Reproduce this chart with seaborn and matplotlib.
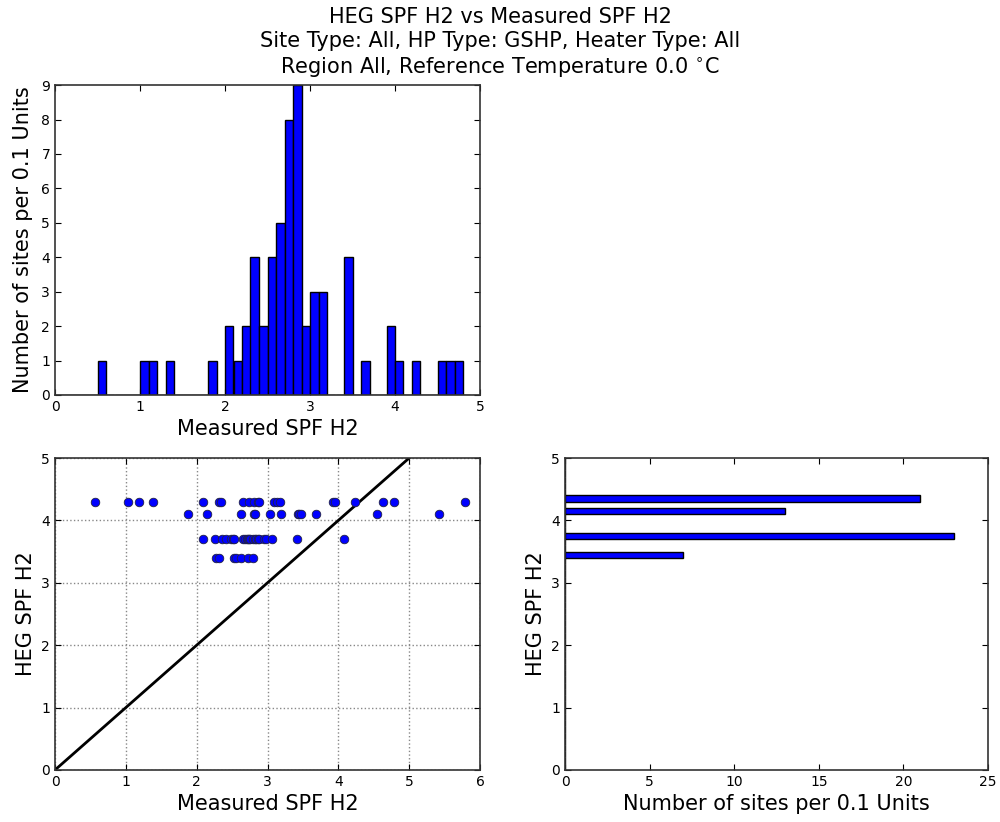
import numpy as np
import pandas as pd
import matplotlib
matplotlib.use("Agg")
import matplotlib.pyplot as plt
import seaborn as sns

# ---- data ----
heg_levels = [4.3, 4.1, 3.7, 3.4]
measured_43 = [0.56, 1.03, 1.18, 1.38, 2.09, 2.31, 2.34, 2.66, 2.74, 2.81, 2.86, 2.88,
               3.09, 3.13, 3.18, 3.92, 3.95, 4.24, 4.63, 4.79, 5.79]
measured_41 = [1.88, 2.14, 2.62, 2.81, 2.82, 3.03, 3.19, 3.43, 3.45, 3.47, 3.68, 4.54, 5.42]
measured_37 = [2.09, 2.26, 2.36, 2.41, 2.48, 2.51, 2.53, 2.65, 2.68, 2.71, 2.72, 2.74, 2.76,
               2.79, 2.82, 2.84, 2.86, 2.88, 2.95, 2.98, 3.07, 3.42, 4.08]
measured_34 = [2.28, 2.31, 2.52, 2.55, 2.62, 2.73, 2.79]
unity_line = [0, 5]

title = ("HEG SPF H2 vs Measured SPF H2\n"
         "Site Type: All, HP Type: GSHP, Heater Type: All\n"
         "Region All, Reference Temperature 0.0 $^{\\circ}$C")

rows = []
for lvl, vals in zip(heg_levels, [measured_43, measured_41, measured_37, measured_34]):
    for v in vals:
        rows.append({"measured": v, "heg": lvl})
df = pd.DataFrame(rows)

bins = np.round(np.arange(0, 5.05, 0.1), 10)

plt.rcParams.update({
    "font.family": ["DejaVu Sans"],
    "mathtext.default": "regular",
    "xtick.direction": "in", "ytick.direction": "in",
    "xtick.top": True, "ytick.right": True,
    "xtick.major.size": 4, "ytick.major.size": 4,
    "xtick.labelsize": 10, "ytick.labelsize": 10,
    "axes.labelsize": 15,
    "axes.edgecolor": "#333333",
})

fig = plt.figure(figsize=(10, 8.22), dpi=100, facecolor="white")
ax1 = fig.add_axes([0.055, 0.5195, 0.425, 0.377])
ax3 = fig.add_axes([0.055, 0.0633, 0.425, 0.3795])
ax4 = fig.add_axes([0.565, 0.0633, 0.423, 0.3795])

# top-left histogram
sns.histplot(x=df["measured"], bins=bins, ax=ax1, color="blue", edgecolor="black",
             linewidth=1, alpha=1)
ax1.set_xlim(0, 5)
ax1.set_ylim(0, 9)
ax1.set_xticks(range(0, 6))
ax1.set_yticks(range(0, 10))
ax1.set_xlabel("Measured SPF H2")
ax1.set_ylabel("Number of sites per 0.1 Units", labelpad=6)

# bottom-left scatter
sns.scatterplot(data=df, x="measured", y="heg", ax=ax3, color="blue", edgecolor="#222244",
                linewidth=0.6, s=38, zorder=3)
ax3.plot(unity_line, unity_line, color="black", linewidth=2, zorder=2)
ax3.set_xlim(0, 6)
ax3.set_ylim(0, 5)
ax3.set_xticks(range(0, 7))
ax3.set_yticks(range(0, 6))
ax3.grid(True, linestyle=":", color="#888888", linewidth=1)
ax3.set_axisbelow(True)
ax3.set_xlabel("Measured SPF H2")
ax3.set_ylabel("HEG SPF H2")

# bottom-right horizontal histogram
sns.histplot(y=df["heg"], bins=bins, ax=ax4, color="blue", edgecolor="black",
             linewidth=1, alpha=1)
ax4.set_xlim(0, 25)
ax4.set_ylim(0, 5)
ax4.set_xticks(range(0, 30, 5))
ax4.set_yticks(range(0, 6))
ax4.set_xlabel("Number of sites per 0.1 Units")
ax4.set_ylabel("HEG SPF H2")

for ax in (ax1, ax3, ax4):
    ax.tick_params(which="both", top=True, right=True, direction="in")
    for s in ax.spines.values():
        s.set_linewidth(1.2)

fig.suptitle(title, fontsize=15, y=0.992, va="top", linespacing=1.25)
fig.savefig("out.png", dpi=100, facecolor="white")
